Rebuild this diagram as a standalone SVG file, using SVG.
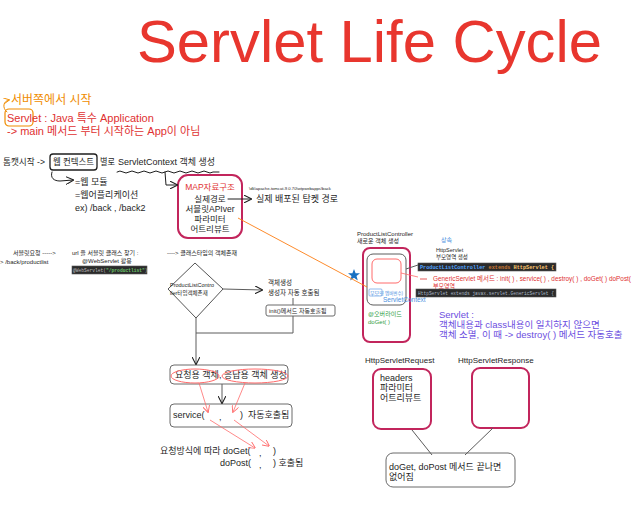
<svg xmlns="http://www.w3.org/2000/svg" width="633" height="509" viewBox="0 0 633 509">
<defs>
<style>
text{font-family:"Liberation Sans","Noto Sans CJK KR",sans-serif;fill:#1e1e1e}
.mono{font-family:"Liberation Mono","DejaVu Sans Mono",monospace}
.ln{fill:none;stroke:#1e1e1e;stroke-width:1;stroke-linecap:round;stroke-linejoin:round}
.gr{fill:none;stroke:#5c5c5c;stroke-width:1}
.red{fill:#e03131}
.org{fill:#f08c00}
.blu{fill:#4a8fe0}
.pur{fill:#6c4ee0}
.grn{fill:#2f9e44}
.cr{fill:#fff;stroke:#c2255c;stroke-width:2}
.box{fill:#fff;stroke:#6b6b6b;stroke-width:1}
.code{fill:#2b2b2b;stroke:#555;stroke-width:0.6}
</style>
<marker id="ah" viewBox="0 0 10 10" refX="9" refY="5" markerWidth="8" markerHeight="8" markerUnits="userSpaceOnUse" orient="auto"><path d="M0,0 L10,5 L0,10" fill="none" stroke="#1e1e1e" stroke-width="1.3"/></marker>
<marker id="ahr" viewBox="0 0 10 10" refX="9" refY="5" markerWidth="7" markerHeight="7" markerUnits="userSpaceOnUse" orient="auto"><path d="M0,0 L10,5 L0,10" fill="none" stroke="#ff6b6b" stroke-width="1.3"/></marker>
<marker id="aho" viewBox="0 0 10 10" refX="9" refY="5" markerWidth="6" markerHeight="6" markerUnits="userSpaceOnUse" orient="auto"><path d="M0,0 L10,5 L0,10" fill="none" stroke="#f08c00" stroke-width="1.5"/></marker>
</defs>
<rect width="633" height="509" fill="#fff"/>

<text x="137" y="62" font-size="60" style="fill:#e8362e" textLength="465" lengthAdjust="spacingAndGlyphs">Servlet Life Cycle</text>

<g id="intro">
<path d="M7,112 C2,108 3,101 9,100" class="ln" style="stroke:#f08c00" marker-end="url(#aho)"/>
<text x="11" y="104" font-size="12" class="org">서버쪽에서 시작</text>
<rect x="5" y="109" width="28" height="17" rx="4" fill="none" stroke="#f08c00" stroke-width="1.2"/>
<text x="7" y="122" font-size="11" class="red">Servlet : Java 특수 Application</text>
<text x="7" y="135" font-size="11" class="red">-&gt; main 메서드 부터 시작하는 App이 아님</text>
</g>

<g id="tomcat">
<text x="3" y="165" font-size="9" textLength="42" lengthAdjust="spacingAndGlyphs">톰캣시작 -&gt;</text>
<rect x="50" y="154" width="47" height="16" rx="3" fill="none" stroke="#1e1e1e" stroke-width="1.3"/>
<text x="53" y="165" font-size="9" textLength="41" lengthAdjust="spacingAndGlyphs">웹 컨텍스트</text>
<text x="100" y="165" font-size="9" textLength="15" lengthAdjust="spacingAndGlyphs">별로</text>
<text x="118" y="165" font-size="9" textLength="97" lengthAdjust="spacingAndGlyphs">ServletContext 객체 생성</text>
<path d="M117,172 q3,-2 6,0 t6,0 t6,0 t6,0 t6,0 t6,0 t6,0 t6,0 t6,0 t6,0 t6,0 t6,0 t6,0 t6,0 t6,0 t6,0 l6,0" class="ln"/>
</g>

<g id="webmodule">
<text x="75" y="185" font-size="9">=웹 모듈</text>
<text x="75" y="198" font-size="9">=웹어플리케이션</text>
<text x="75" y="211" font-size="9">ex) /back , /back2</text>
</g>

<g id="mapbox">
<rect x="178" y="175" width="64" height="63" rx="10" class="cr"/>
<text x="210" y="190" font-size="8.5" text-anchor="middle" class="red">MAP자료구조</text>
<text x="210" y="202" font-size="8.5" text-anchor="middle">실제경로</text>
<text x="210" y="212" font-size="8.5" text-anchor="middle">서블릿APIver</text>
<text x="210" y="222" font-size="8.5" text-anchor="middle">파라미터</text>
<text x="210" y="232" font-size="8.5" text-anchor="middle">어트리뷰트</text>
</g>

<g id="realpath">
<text x="249" y="190" font-size="4.2">\dk\apache-tomcat-9.0.70\wtpwebapps\back</text>
<text x="256" y="202" font-size="9">실제 배포된 탐켓 경로</text>
</g>

<g id="request-row">
<text x="13" y="255" font-size="6">서블릿요청 -----&gt;</text>
<text x="0" y="264" font-size="6">&gt; /back/productlist</text>
<text x="72" y="255" font-size="6">url 을 서블릿 클래스 찾기 :</text>
<text x="82" y="263" font-size="6">@WebServlet 활용</text>
<rect x="72" y="266" width="75" height="8" class="code"/>
<text x="73" y="272" font-size="4.6" class="mono" style="fill:#bbbbbb">@WebServlet(</text>
<text x="106.1" y="272" font-size="4.6" class="mono" font-weight="bold" style="fill:#6ac26a">"/productlist"</text>
<text x="144.7" y="272" font-size="4.6" class="mono" style="fill:#bbbbbb">)</text>
<text x="167" y="255" font-size="6">----&gt; 클래스타입의 객체존재</text>
</g>

<g id="diamond">
<polygon points="195,263 223,289 196,318 168,289" fill="#fff" stroke="#555" stroke-width="1" stroke-linejoin="round"/>
<text x="170" y="287" font-size="5.5">ProductListContro</text>
<text x="170" y="295" font-size="5.5">ller타입객체존재</text>
</g>

<g id="create">
<text x="268" y="285" font-size="6.5">객체생성</text>
<text x="268" y="295" font-size="6.5">생성자 자동 호출됨</text>
</g>

<g id="init">
<rect x="266" y="305" width="69" height="11" rx="2" class="box"/>
<text x="269" y="313" font-size="6">init()메서드 자동호출됨</text>
</g>

<g id="objects">
<rect x="170" y="365" width="118" height="19" rx="4" class="box"/>
<text x="175" y="378" font-size="9">요청용 객체, 응답용 객체 생성</text>
<ellipse cx="195" cy="376" rx="24" ry="7" fill="none" stroke="#ff6b6b" stroke-width="1"/>
<ellipse cx="255" cy="376" rx="33" ry="7" fill="none" stroke="#ff6b6b" stroke-width="1"/>
</g>

<g id="service">
<rect x="170" y="404" width="122" height="23" rx="4" class="box"/>
<text x="173" y="418" font-size="9">service(</text>
<text x="219" y="420" font-size="9">,</text>
<text x="240" y="418" font-size="9">)</text>
<text x="248" y="418" font-size="9">자동호출됨</text>
</g>

<g id="doget">
<text x="160" y="454" font-size="9">요청방식에 따라 doGet(</text>
<text x="259" y="456" font-size="9">,</text>
<text x="273" y="454" font-size="9">)</text>
<text x="220" y="466" font-size="9">doPost(</text>
<text x="259" y="468" font-size="9">,</text>
<text x="273" y="466" font-size="9">) 호출됨</text>
</g>

<g id="controller">
<text x="357" y="236" font-size="6">ProductListController</text>
<text x="357" y="243" font-size="6">새로운 객체 생성</text>
<rect x="363" y="248" width="47" height="94" rx="7" class="cr"/>
<rect x="367" y="254" width="39" height="51" rx="6" fill="none" stroke="#5c5c5c" stroke-width="1"/>
<rect x="372" y="259" width="29" height="24" rx="5" fill="none" stroke="#ff6b6b" stroke-width="1"/>
<rect x="369" y="289" width="13" height="7" rx="1" fill="none" stroke="#4a8fe0" stroke-width="0.6"/>
<text x="370" y="295" font-size="5" class="blu">부모영</text>
<text x="385" y="295" font-size="4.5" class="blu">멤버변수)</text>
<text x="383" y="302" font-size="6.5" class="blu">ServletContext</text>
<text x="368" y="316" font-size="6" class="grn">@오버라이드</text>
<text x="368" y="324" font-size="6" class="grn">doGet( )</text>
<polygon points="354,269 355.6,273.3 360,273.3 356.5,276 357.8,280.5 354,277.8 350.2,280.5 351.5,276 348,273.3 352.4,273.3" fill="#1971c2"/>
</g>

<g id="inherit">
<text x="441" y="242" font-size="6" class="blu">상속</text>
<text x="436" y="252" font-size="5.5">HttpServlet</text>
<text x="436" y="259" font-size="5.5">부모영역 생성</text>
<rect x="418" y="263" width="138" height="8" class="code"/>
<text x="420" y="269.3" font-size="5.2" class="mono" font-weight="bold" style="fill:#4fa3ff">ProductListController</text>
<text x="488.6" y="269.3" font-size="5.2" class="mono" font-weight="bold" style="fill:#cc7832">extends</text>
<text x="513.6" y="269.3" font-size="5.2" class="mono" font-weight="bold" style="fill:#ffc66d">HttpServlet {</text>
<text x="433" y="281" font-size="6.5" class="red" textLength="198" lengthAdjust="spacingAndGlyphs">GenericServlet 메서드 : init( ) , service( ) , destroy( ) , doGet( ) doPost(</text>
<text x="433" y="288" font-size="6" class="red">부모영역</text>
<rect x="416" y="289" width="140" height="8" class="code"/>
<text x="418" y="295" font-size="4.6" class="mono" textLength="136" lengthAdjust="spacingAndGlyphs" style="fill:#a9b7c6">HttpServlet extends javax.servlet.GenericServlet {</text>
</g>

<g id="destroy">
<text x="439" y="318" font-size="9.5" class="pur">Servlet :</text>
<text x="439" y="328" font-size="9.5" class="pur">객체내용과 class내용이 일치하지 않으면</text>
<text x="439" y="338" font-size="9.5" class="pur">객체 소멸, 이 때 -&gt; destroy( ) 메서드 자동호출</text>
</g>

<g id="httpreq">
<text x="365" y="363" font-size="8">HttpServletRequest</text>
<rect x="373" y="369" width="58" height="60" rx="8" class="cr"/>
<text x="380" y="381" font-size="9">headers</text>
<text x="380" y="391" font-size="9">파라미터</text>
<text x="380" y="401" font-size="9">어트리뷰트</text>
</g>

<g id="httpres">
<text x="458" y="363" font-size="8">HttpServletResponse</text>
<rect x="472" y="368" width="57" height="60" rx="8" class="cr"/>
</g>

<g id="end">
<rect x="386" y="453" width="129" height="34" rx="7" class="box"/>
<text x="389" y="470" font-size="9">doGet, doPost 메서드 끝나면</text>
<text x="389" y="480" font-size="9">없어짐</text>
</g>

<g id="connectors">
<path d="M52,172 C50,178 54,181 60,181 L73,180" class="ln" stroke-width="1.6" marker-end="url(#ah)"/>
<path d="M165,172 L166,185 L177,185" class="ln" stroke-width="1.4" marker-end="url(#ah)"/>
<path d="M228,199 L251,199" class="ln" marker-end="url(#ah)"/>
<path d="M238,218 L367,287" fill="none" stroke="#fd7e14" stroke-width="0.9"/>
<path d="M223,289 L262,290" class="gr" marker-end="url(#ah)"/>
<path d="M293,298 L293,305" class="gr"/>
<path d="M293,316 L293,333 L196,333" class="gr"/>
<path d="M196,318 L196,364" class="gr" marker-end="url(#ah)"/>
<path d="M222,384 L222,403" class="gr" marker-end="url(#ah)"/>
<path d="M199,383 L208,412" fill="none" stroke="#ff6b6b" stroke-width="0.8" marker-end="url(#ahr)"/>
<path d="M245,383 L233,412" fill="none" stroke="#ff6b6b" stroke-width="0.8" marker-end="url(#ahr)"/>
<path d="M210,420 L255,448" fill="none" stroke="#ff6b6b" stroke-width="0.8" marker-end="url(#ahr)"/>
<path d="M234,420 L269,446" fill="none" stroke="#ff6b6b" stroke-width="0.8" marker-end="url(#ahr)"/>
<path d="M406,269 L418,265" class="gr"/>
<path d="M401,273 L418,277" fill="none" stroke="#ff6b6b" stroke-width="0.8"/>
<path d="M420,279 L427,279" fill="none" stroke="#e03131" stroke-width="0.8"/>
<path d="M412,430 L432,455" class="gr"/>
<path d="M493,428 L465,455" class="gr"/>
</g>
</svg>
